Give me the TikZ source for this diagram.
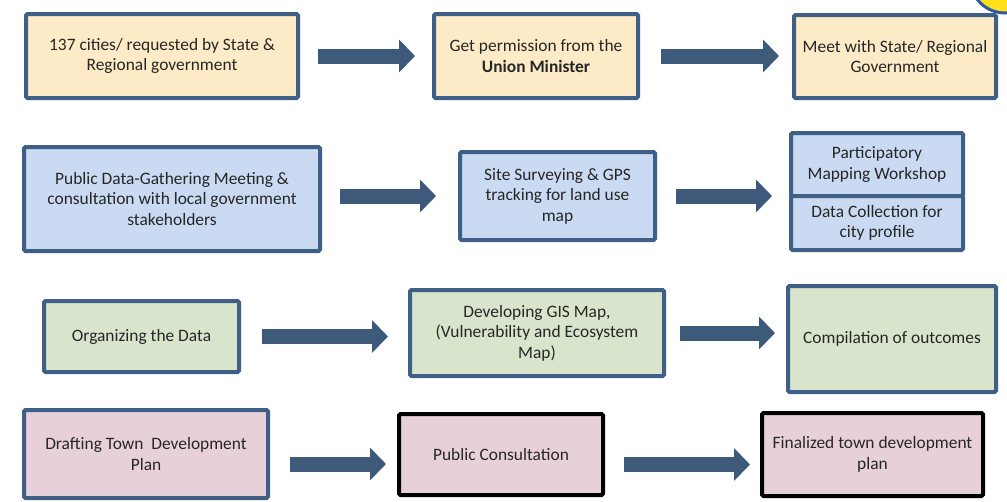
\documentclass[tikz,border=0pt]{standalone}
\usepackage{fontspec}
\setmainfont{Carlito}
\usetikzlibrary{arrows.meta,positioning}

\definecolor{boxline}{HTML}{3F5F86}
\definecolor{arrowc}{HTML}{3D5A7A}
\definecolor{fillyel}{HTML}{FDEBC7}
\definecolor{fillblu}{HTML}{C9DAF2}
\definecolor{fillgrn}{HTML}{D8E5CC}
\definecolor{fillpnk}{HTML}{E8D0DA}
\definecolor{ringyel}{HTML}{FFE01A}
\definecolor{ringblu}{HTML}{2E58A6}

\begin{document}
\begin{tikzpicture}[x=1pt,y=-1pt,
 box/.style={draw=boxline,line width=4pt,rounded corners=1.5pt,inner sep=0pt,
  align=center,text=black!85,font=\fontsize{17.4}{20.5}\selectfont},
 blk/.style={box,draw=black},
 flow/.style={draw=arrowc,line width=15pt,-{Triangle[width=32pt,length=16pt]}}]
\useasboundingbox (0,0) rectangle (1007,501);
\clip (0,0) rectangle (1007,501);
% badge cut by the corner
\draw[line width=3pt,draw=ringblu,fill=ringyel] (1005,-22) circle (35pt);
% first row
\node[box,fill=fillyel,minimum width=272pt,minimum height=84pt] (b1) at (162,56)
 {137 cities/ requested by State \&\\Regional government};
\node[box,fill=fillyel,minimum width=204pt,minimum height=84pt] (b2) at (536,56)
 {Get permission from the\\\textbf{Union Minister}};
\node[box,fill=fillyel,minimum width=202pt,minimum height=83pt] (b3) at (895,56.5)
 {Meet with State/ Regional\\Government};
% second row
\node[box,fill=fillblu,minimum width=296pt,minimum height=104pt] (b4) at (172,199)
 {Public Data-Gathering Meeting \&\\consultation with local government\\stakeholders};
\node[box,fill=fillblu,minimum width=195pt,minimum height=88pt] (b5) at (557.5,196)
 {Site Surveying \& GPS\\tracking for land use\\map};
\node[box,fill=fillblu,minimum width=172pt,minimum height=63pt] (b6a) at (877,164.5)
 {Participatory\\Mapping Workshop};
\node[box,fill=fillblu,minimum width=172pt,minimum height=54pt] (b6b) at (877,223)
 {Data Collection for\\city profile};
% third row
\node[box,fill=fillgrn,minimum width=195pt,minimum height=71pt] (b7) at (141.5,336.5)
 {Organizing the Data};
\node[box,fill=fillgrn,minimum width=254pt,minimum height=86pt] (b8) at (537,333)
 {Developing GIS Map,\\(Vulnerability and Ecosystem\\Map)};
\node[box,fill=fillgrn,minimum width=208pt,minimum height=106pt] (b9) at (892,339)
 {Compilation of outcomes};
% fourth row
\node[box,fill=fillpnk,minimum width=244pt,minimum height=88pt] (b10) at (146,454)
 {Drafting Town~ Development\\Plan};
\node[blk,fill=fillpnk,minimum width=204pt,minimum height=81pt] (b11) at (501,454.5)
 {Public Consultation};
\node[blk,fill=fillpnk,minimum width=221pt,minimum height=83pt] (b12) at (872.5,454.5)
 {Finalized town development\\plan};
% arrows
\draw[flow,shorten <=18pt,shorten >=17pt] (b1.east) -- (b1.east -| b2.west);
\draw[flow,shorten <=21pt,shorten >=13pt] (b2.east) -- (b2.east -| b3.west);
\draw[flow,shorten <=18pt,shorten >=22pt] (b4.east |- b5.west) -- (b5.west);
\draw[flow,shorten <=19pt,shorten >=17pt] (b5.east) -- (b5.east -| b6a.west);
\draw[flow,shorten <=21pt,shorten >=20pt] (b7.east) -- (b7.east -| b8.west);
\draw[flow,shorten <=14pt,shorten >=11pt] (b8.east) -- (b8.east -| b9.west);
\draw[flow,shorten <=20pt,shorten >=11pt] ([yshift=-10pt]b10.east) -- ([yshift=-10pt]b10.east -| b11.west);
\draw[flow,shorten <=19pt,shorten >=10pt] ([yshift=-10pt]b11.east) -- ([yshift=-10pt]b11.east -| b12.west);
\end{tikzpicture}
\end{document}
